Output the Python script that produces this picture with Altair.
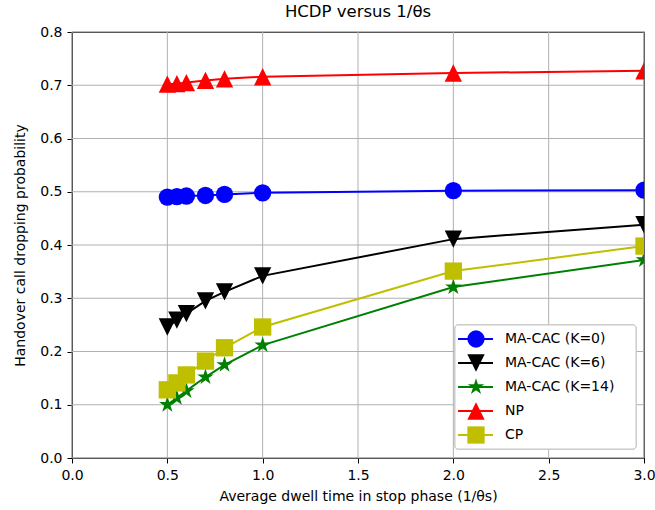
import math
import altair as alt
import pandas as pd

# Average dwell time in stop phase (1/θs)
dwell_time = [0.5, 0.55, 0.6, 0.7, 0.8, 1.0, 2.0, 3.0]

# Handover call dropping probability per scheme
hcdp_k0 = [0.490, 0.491, 0.492, 0.493, 0.495, 0.498, 0.502, 0.503]
hcdp_k6 = [0.246, 0.259, 0.271, 0.295, 0.312, 0.342, 0.411, 0.438]
hcdp_k14 = [0.100, 0.113, 0.126, 0.152, 0.175, 0.212, 0.321, 0.372]
hcdp_np = [0.702, 0.703, 0.705, 0.709, 0.712, 0.716, 0.723, 0.727]
hcdp_cp = [0.128, 0.141, 0.156, 0.182, 0.207, 0.246, 0.351, 0.398]

series_names = ["MA-CAC (K=0)", "MA-CAC (K=6)", "MA-CAC (K=14)", "NP", "CP"]
series_values = [hcdp_k0, hcdp_k6, hcdp_k14, hcdp_np, hcdp_cp]
series_colors = ["#0000ff", "#000000", "#008000", "#ff0000", "#bfbf00"]

# Axis tick positions
x_ticks = [0, 0.5, 1.0, 1.5, 2.0, 2.5, 3.0]
y_ticks = [0, 0.1, 0.2, 0.3, 0.4, 0.5, 0.6, 0.7, 0.8]


def star_path(points=5, inner=0.381966):
    pts = []
    for i in range(points * 2):
        r = 1.0 if i % 2 == 0 else inner
        a = math.pi * i / points
        pts.append((r * math.sin(a), -r * math.cos(a)))
    return "M" + "L".join(f"{x:.4f},{y:.4f}" for x, y in pts) + "Z"


series_shapes = [
    "circle",
    "M0,1L1,-1L-1,-1Z",   # triangle pointing down
    star_path(),
    "M0,-1L1,1L-1,1Z",    # triangle pointing up
    "M-1,-1L1,-1L1,1L-1,1Z",
]

rows = []
for name, vals in zip(series_names, series_values):
    for x, y in zip(dwell_time, vals):
        rows.append({"series": name, "x": x, "y": y})
df = pd.DataFrame(rows)
legend_df = pd.DataFrame({"series": series_names})
xgrid_df = pd.DataFrame({"x": x_ticks})
ygrid_df = pd.DataFrame({"y": y_ticks})

FONT = "DejaVu Sans"
W, H = 572, 426
GRID = "#b0b0b0"

color = alt.Color("series:N", scale=alt.Scale(domain=series_names, range=series_colors), legend=None)
shape = alt.Shape("series:N", scale=alt.Scale(domain=series_names, range=series_shapes), legend=None)

x_scale = alt.Scale(domain=[0, 3], nice=False, padding=0)
y_scale = alt.Scale(domain=[0, 0.8], nice=False, padding=0)

x_enc = alt.X(
    "x:Q",
    scale=x_scale,
    axis=alt.Axis(
        title="Average dwell time in stop phase (1/θs)",
        values=x_ticks, format=".1f", grid=False, labelFlush=False,
    ),
)
y_enc = alt.Y(
    "y:Q",
    scale=y_scale,
    axis=alt.Axis(
        title="Handover call dropping probability",
        values=y_ticks, format=".1f", grid=False, labelFlush=False,
    ),
)

# Grid lines at the tick positions
xgrid = alt.Chart(xgrid_df).mark_rule(color=GRID, strokeWidth=1).encode(x=alt.X("x:Q", scale=x_scale))
ygrid = alt.Chart(ygrid_df).mark_rule(color=GRID, strokeWidth=1).encode(y=alt.Y("y:Q", scale=y_scale))

lines = alt.Chart(df).mark_line(strokeWidth=2, clip=True).encode(
    x=x_enc, y=y_enc, color=color, detail="series:N"
)
points = alt.Chart(df).mark_point(filled=True, opacity=1, size=300, clip=True).encode(
    x="x:Q", y="y:Q", color=color, shape=shape
)

# Legend drawn inside the axes, lower right; rows spread by a point scale
row_offset = alt.YOffset(
    "series:N",
    scale=alt.Scale(type="point", domain=series_names, range=[0, 96], padding=0),
)
leg_box = alt.Chart(legend_df).mark_rect(
    fill="white", fillOpacity=0.8, stroke="#cccccc", strokeWidth=1, cornerRadius=3
).encode(
    x=alt.value(383), x2=alt.value(564), y=alt.value(293), y2=alt.value(417)
)
leg_lines = alt.Chart(legend_df).mark_rule(strokeWidth=2).encode(
    x=alt.value(386), x2=alt.value(421), y=alt.value(307), yOffset=row_offset, color=color
)
leg_points = alt.Chart(legend_df).mark_point(filled=True, opacity=1, size=300).encode(
    x=alt.value(404), y=alt.value(307), yOffset=row_offset, color=color, shape=shape
)
leg_text = alt.Chart(legend_df).mark_text(
    align="left", baseline="middle", font=FONT, fontSize=14, color="black"
).encode(x=alt.value(433), y=alt.value(307), yOffset=row_offset, text="series:N")

chart = (
    alt.layer(xgrid, ygrid, lines, points, leg_box, leg_lines, leg_points, leg_text)
    .properties(
        width=W,
        height=H,
        background="white",
        title=alt.TitleParams(
            "HCDP versus 1/θs", font=FONT, fontSize=16.5, fontWeight="normal",
            color="black", anchor="middle", offset=5,
        ),
        autosize=alt.AutoSizeParams(type="none"),
        padding={"left": 72, "top": 32, "right": 11, "bottom": 52},
    )
    .configure_view(stroke="black", strokeWidth=1.2)
    .configure_axis(
        labelFont=FONT, titleFont=FONT, labelFontSize=14, titleFontSize=14,
        titleFontWeight="normal", labelColor="black", titleColor="black",
        domainColor="black", tickColor="black", tickSize=5, labelPadding=5,
    )
    .configure_axisX(titlePadding=7)
    .configure_axisY(titlePadding=12)
)

chart.save("out.html", embed_options={"renderer": "svg", "actions": False})
